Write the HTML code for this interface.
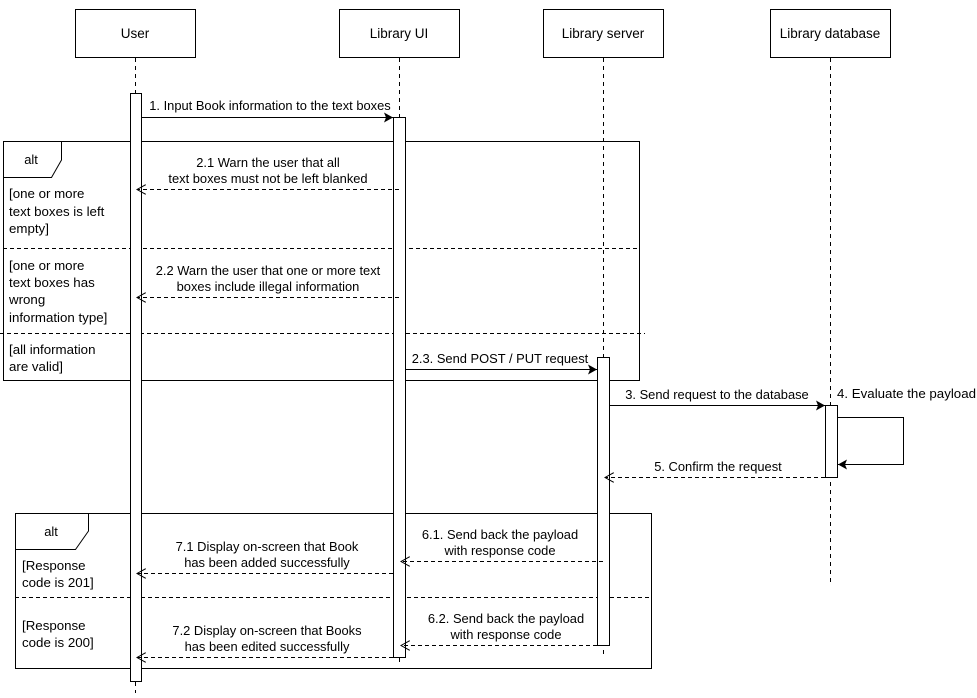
<!DOCTYPE html>
<html><head><meta charset="utf-8"><style>
html,body{margin:0;padding:0;background:#fff;}
svg{display:block;font-family:"Liberation Sans",Arial,sans-serif;font-size:12.9px;}
</style></head><body>
<svg width="977" height="698" viewBox="0 0 977 698" xmlns="http://www.w3.org/2000/svg">
<defs>
<marker id="f" markerWidth="10" markerHeight="10" refX="9" refY="5" orient="auto" markerUnits="userSpaceOnUse"><path d="M0,0 L9,5 L0,10 L2,5 Z" fill="#000"/></marker>
<marker id="o" markerWidth="10" markerHeight="10" refX="9" refY="5" orient="auto" markerUnits="userSpaceOnUse"><path d="M0,0 L9,5 L0,10" fill="none" stroke="#000"/></marker>
</defs>
<g fill="#fff" stroke="#000" stroke-width="1">
<rect x="75.5" y="9.5" width="120" height="48"/>
<rect x="339.5" y="9.5" width="120" height="48"/>
<rect x="543.5" y="9.5" width="120" height="48"/>
<rect x="770.5" y="9.5" width="120" height="48"/>
</g>
<g text-anchor="middle" font-size="13.5">
<text x="135" y="38">User</text>
<text x="399" y="38">Library UI</text>
<text x="603" y="38">Library server</text>
<text x="830" y="38">Library database</text>
</g>
<g stroke="#000" stroke-dasharray="4,4" fill="none">
<line x1="135.5" y1="58" x2="135.5" y2="693"/>
<line x1="399.5" y1="58" x2="399.5" y2="662"/>
<line x1="603.5" y1="58" x2="603.5" y2="657"/>
<line x1="830.5" y1="58" x2="830.5" y2="585"/>
</g>
<g fill="none" stroke="#000">
<rect x="3.5" y="141.5" width="636" height="239"/>
<path d="M3.5,177.5 L51.5,177.5 L61.5,160 L61.5,141.5"/>
<line x1="3" y1="248.5" x2="639" y2="248.5" stroke-dasharray="4,3"/>
<line x1="0" y1="333.5" x2="645" y2="333.5" stroke-dasharray="4,3"/>
<rect x="15.5" y="513.5" width="636" height="155"/>
<path d="M15.5,549.5 L75.5,549.5 L88.5,531 L88.5,513.5"/>
<line x1="15" y1="597.5" x2="651" y2="597.5" stroke-dasharray="4,3"/>
</g>
<g fill="#fff" stroke="#000">
<rect x="130.5" y="93.5" width="11" height="588"/>
<rect x="393.5" y="117.5" width="12" height="540"/>
<rect x="597.5" y="357.5" width="12" height="288"/>
<rect x="825.5" y="405.5" width="12" height="72"/>
</g>
<g fill="none" stroke="#000">
<line x1="141" y1="117.5" x2="393" y2="117.5" marker-end="url(#f)"/>
<line x1="399" y1="189.5" x2="137" y2="189.5" stroke-dasharray="4,3" marker-end="url(#o)"/>
<line x1="399" y1="297.5" x2="137" y2="297.5" stroke-dasharray="4,3" marker-end="url(#o)"/>
<line x1="405" y1="369.5" x2="597" y2="369.5" marker-end="url(#f)"/>
<line x1="609" y1="405.5" x2="825" y2="405.5" marker-end="url(#f)"/>
<path d="M837,417.5 L903.5,417.5 L903.5,464.5 L838,464.5" marker-end="url(#f)"/>
<line x1="825" y1="477.5" x2="605" y2="477.5" stroke-dasharray="4,3" marker-end="url(#o)"/>
<line x1="603" y1="561.5" x2="401" y2="561.5" stroke-dasharray="4,3" marker-end="url(#o)"/>
<line x1="393" y1="573.5" x2="137" y2="573.5" stroke-dasharray="4,3" marker-end="url(#o)"/>
<line x1="597" y1="645.5" x2="401" y2="645.5" stroke-dasharray="4,3" marker-end="url(#o)"/>
<line x1="393" y1="657.5" x2="137" y2="657.5" stroke-dasharray="4,3" marker-end="url(#o)"/>
</g>
<g text-anchor="middle">
<text x="270" y="110">1. Input Book information to the text boxes</text>
<text x="268" y="167">2.1 Warn the user that all</text>
<text x="268" y="183">text boxes must not be left blanked</text>
<text x="268" y="275">2.2 Warn the user that one or more text</text>
<text x="268" y="291">boxes include illegal information</text>
<text x="500" y="363">2.3. Send POST / PUT request</text>
<text x="717" y="399">3. Send request to the database</text>
<text x="718" y="471">5. Confirm the request</text>
<text x="500" y="539">6.1. Send back the payload</text>
<text x="500" y="555">with response code</text>
<text x="267" y="551">7.1 Display on-screen that Book</text>
<text x="267" y="567">has been added successfully</text>
<text x="506" y="623">6.2. Send back the payload</text>
<text x="506" y="639">with response code</text>
<text x="267" y="635">7.2 Display on-screen that Books</text>
<text x="267" y="651">has been edited successfully</text>
<text x="31" y="164">alt</text>
<text x="51" y="536">alt</text>
</g>
<g font-size="13.3">
<text x="837" y="398">4. Evaluate the payload</text>
<text x="9" y="198">[one or more</text>
<text x="9" y="216">text boxes is left</text>
<text x="9" y="233">empty]</text>
<text x="9" y="270">[one or more</text>
<text x="9" y="287">text boxes has</text>
<text x="9" y="304">wrong</text>
<text x="9" y="322">information type]</text>
<text x="9" y="354">[all information</text>
<text x="9" y="371">are valid]</text>
<text x="22" y="570">[Response</text>
<text x="22" y="587">code is 201]</text>
<text x="22" y="630">[Response</text>
<text x="22" y="647">code is 200]</text>
</g>
</svg>
</body></html>
